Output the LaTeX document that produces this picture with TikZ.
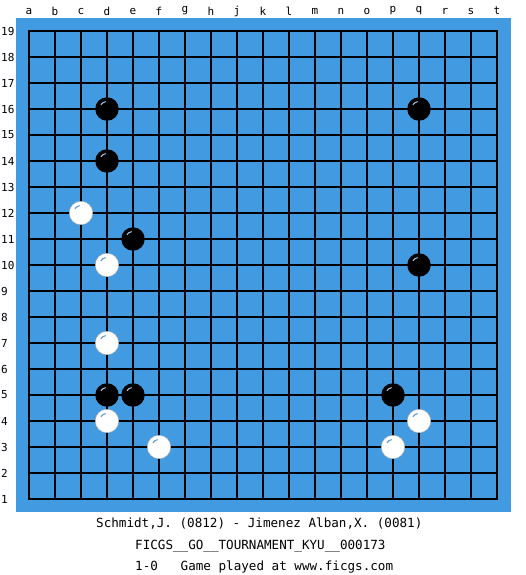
\documentclass[tikz,border=0pt]{standalone}
\usepackage{fontspec}
\newfontfamily\monofont{DejaVu Sans Mono}
\definecolor{boardblue}{RGB}{66,155,224}
\definecolor{hlblack}{RGB}{170,200,230}
\definecolor{hlwhite}{RGB}{90,150,210}
\begin{document}
\begin{tikzpicture}[x=1pt,y=-1pt,
  gridline/.style={line width=1.3pt,black},
  blackstone/.style={circle,fill=black,minimum size=23.5pt,inner sep=0pt},
  whitestone/.style={circle,fill=white,draw=gray!60,line width=0.4pt,minimum size=23.5pt,inner sep=0pt},
  collabel/.style={font=\monofont\fontsize{11}{11}\selectfont,inner sep=0pt},
  rowlabel/.style={font=\monofont\fontsize{11}{11}\selectfont,inner sep=0pt,anchor=west},
  caption/.style={font=\monofont\fontsize{12.6}{13}\selectfont,inner sep=0pt,anchor=west}]
\useasboundingbox (0,0) rectangle (525,575);
\fill[white] (0,0) rectangle (525,575);
\fill[boardblue] (16,18) rectangle (511,512);
% grid
\foreach \i in {0,...,18} {
  \draw[gridline] (29+26*\i,31) -- (29+26*\i,499);
  \draw[gridline] (29,31+26*\i) -- (497,31+26*\i);
}
\draw[gridline] (29,31) rectangle (497,499);
% column labels
\foreach \l [count=\i from 0] in {a,b,c,d,e,f,g,h,j,k,l,m,n,o,p,q,r,s,t} {
  \node[collabel] (col\l) at (29+26*\i,11) {\l};
}
% row labels
\foreach \n in {1,...,19} {
  \node[rowlabel] (row\n) at (1,31+26*19-26*\n) {\n};
}
% stones: (column index, row number)
\foreach \c/\r/\nm in {3/16/bA,15/16/bB,3/14/bC,4/11/bD,15/10/bE,3/5/bF,4/5/bG,14/5/bH} {
  \node[blackstone] (\nm) at (29+26*\c,31+26*19-26*\r) {};
  \draw[hlblack,line width=1pt] (\nm.center) ++(-100:7.5) arc (-100:-145:7.5);
}
\foreach \c/\r/\nm in {2/12/wA,3/10/wB,3/7/wC,3/4/wD,5/3/wE,15/4/wF,14/3/wG} {
  \node[whitestone] (\nm) at (29+26*\c,31+26*19-26*\r) {};
  \draw[hlwhite,line width=1pt] (\nm.center) ++(-100:7.5) arc (-100:-145:7.5);
}
% captions
\node[caption] (cap1) at (96,524) {Schmidt,J. (0812) - Jimenez Alban,X. (0081)};
\node[caption] (cap2) at (135,546) {FICGS\_\_GO\_\_TOURNAMENT\_KYU\_\_000173};
\node[caption] (cap3) at (135,567) {1-0\ \ \ Game played at www.ficgs.com};
\end{tikzpicture}
\end{document}
